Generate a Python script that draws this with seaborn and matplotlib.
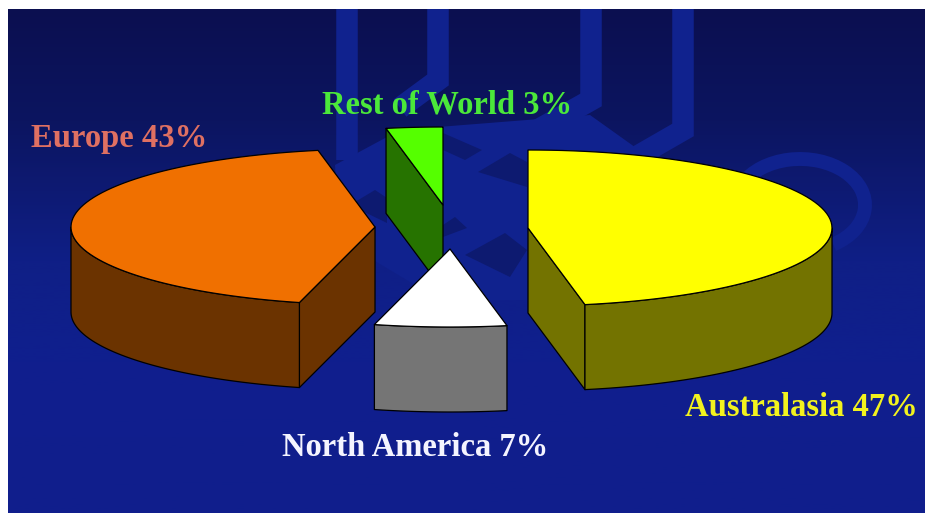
import numpy as np
import matplotlib
matplotlib.use("Agg")
import matplotlib.pyplot as plt
from matplotlib.colors import LinearSegmentedColormap
from matplotlib.patches import Arc
import seaborn as sns

# ---- data ----
regions = ["Australasia", "North America", "Europe", "Rest of World"]
shares = [47, 7, 43, 3]

# ---- style / layout ----
top_colors = ["#FFFF00", "#FFFFFF", "#F07000", "#55FF00"]
side_colors = ["#737300", "#757575", "#6B3300", "#267300"]
label_colors = ["#F2F21E", "#F4F4FF", "#DF7062", "#4BE83A"]
apex = {"Australasia": (528, 228), "North America": (450, 249),
        "Europe": (375, 227), "Rest of World": (443, 205)}
label_pos = {"Australasia": (801, 408), "North America": (415, 447),
             "Europe": (119, 138), "Rest of World": (447, 105)}
RX, RY, DEPTH = 304, 78, 85
draw_order = ["Rest of World", "Europe", "Australasia", "North America"]

sns.set_theme(style="white")
plt.rcParams["font.family"] = ["Liberation Serif", "DejaVu Serif"]

fig = plt.figure(figsize=(9.25, 5.14), dpi=100, facecolor="white")
ax = fig.add_axes([0, 0, 1, 1])
ax.set_xlim(0, 925)
ax.set_ylim(514, 0)
ax.axis("off")

# background gradient
cmap = LinearSegmentedColormap.from_list(
    "bg", [(0, "#0B0F50"), (0.22, "#0C1560"), (0.5, "#0F1F86"), (0.7, "#101F8E"), (1, "#101E8C")])
ax.imshow(np.linspace(0, 1, 256)[:, None], cmap=cmap, extent=(8, 925, 513, 9),
          aspect="auto", zorder=0)
ax.set_xlim(0, 925)
ax.set_ylim(514, 0)

# faint logo behind the pie
ghost = "#10228E"
ghost_dark = "#0D1A70"
ax.fill([335, 400, 590, 660, 560, 440, 340], [165, 130, 115, 165, 300, 300, 240],
        color=ghost, lw=0, zorder=1)
ghost_paths = [
    [(683, 9), (683, 130), (610, 172)],
    [(591, 9), (591, 100), (520, 140)],
    [(347, 9), (347, 160)],
    [(438, 9), (438, 80), (400, 108)],
]
for path in ghost_paths:
    xs, ys = zip(*path)
    ax.plot(xs, ys, color=ghost, lw=15.5, solid_capstyle="butt", solid_joinstyle="miter", zorder=1)
ax.add_patch(Arc((800, 205), 130, 92, theta1=200, theta2=410, color=ghost, lw=10, zorder=1))
ghost_diamonds = [
    [(443, 133), (482, 150), (465, 160), (443, 150)],
    [(478, 172), (510, 153), (527, 162), (527, 187)],
    [(465, 255), (505, 233), (527, 250), (510, 277)],
    [(443, 225), (455, 217), (467, 228), (443, 237)],
    [(350, 205), (375, 190), (387, 198), (387, 223)],
]
for d in ghost_diamonds:
    xs, ys = zip(*d)
    ax.fill(xs, ys, color=ghost_dark, lw=0, zorder=1.1)

# slice angles, clockwise from 12 o'clock
fractions = np.array(shares) / np.sum(shares)
ends = 90 - 360 * np.cumsum(fractions)
starts = np.r_[90, ends[:-1]]


def arc_points(cx, cy, a0, a1, n=80):
    t = np.radians(np.linspace(a0, a1, n))
    return cx + RX * np.cos(t), cy - RY * np.sin(t)


edge = dict(edgecolor="black", linewidth=0.9, joinstyle="round")
for z, name in enumerate(draw_order):
    i = regions.index(name)
    cx, cy = apex[name]
    a0, a1 = starts[i], ends[i]
    zb = 2 + z * 0.1
    top_col, side_col = top_colors[i], side_colors[i]

    # flat cut faces that look towards the viewer
    for ang, visible in ((a0, np.cos(np.radians(a0)) < -1e-6), (a1, np.cos(np.radians(a1)) > 1e-6)):
        if visible:
            ex, ey = arc_points(cx, cy, ang, ang, 1)
            ax.fill([cx, ex[0], ex[0], cx], [cy, ey[0], ey[0] + DEPTH, cy + DEPTH],
                    facecolor=side_col, zorder=zb, **edge)

    # curved outer wall: only the part of the rim facing front
    lo, hi = max(a1, -180), min(a0, 0)
    if hi > lo:
        ax_, ay_ = arc_points(cx, cy, hi, lo)
        ax.fill(np.r_[ax_, ax_[::-1]], np.r_[ay_, ay_[::-1] + DEPTH],
                facecolor=side_col, zorder=zb + 0.01, **edge)

    # top surface
    tx, ty = arc_points(cx, cy, a0, a1)
    ax.fill(np.r_[cx, tx], np.r_[cy, ty], facecolor=top_col, zorder=zb + 0.02, **edge)

# labels
for name, share, col in zip(regions, shares, label_colors):
    x, y = label_pos[name]
    ax.text(x, y, f"{name} {share}%", color=col, fontsize=23.5, fontweight="bold",
            ha="center", va="center", zorder=10)

fig.savefig("out.png", dpi=100, facecolor="white")
